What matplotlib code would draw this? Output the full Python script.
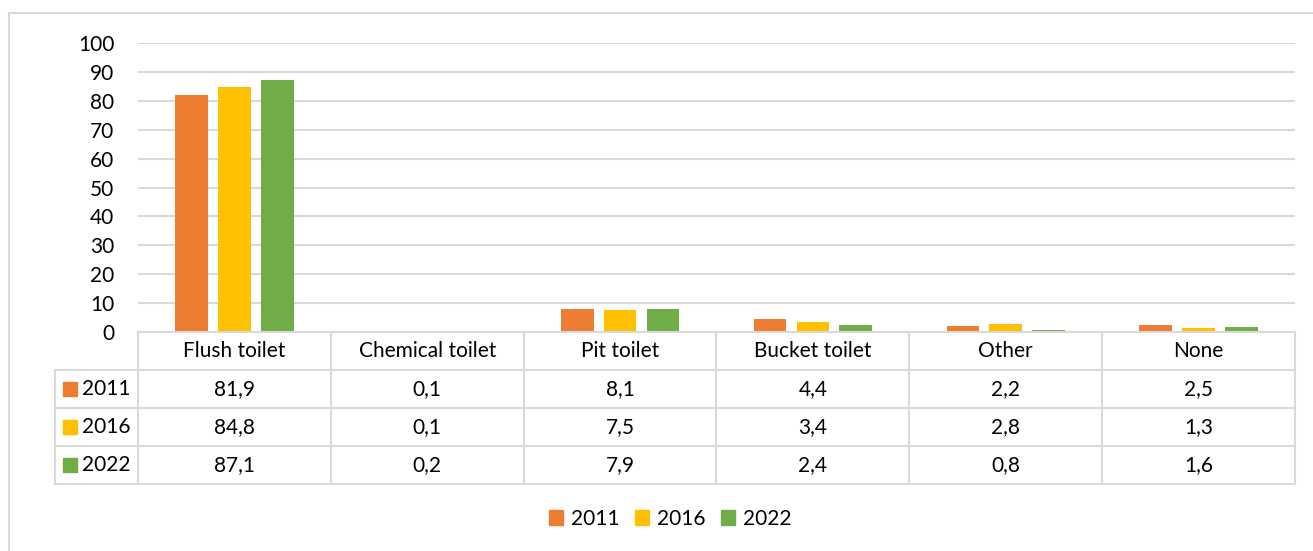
import numpy as np
import matplotlib.pyplot as plt
from matplotlib.patches import Rectangle

plt.rcParams['font.family'] = ['Lato', 'DejaVu Sans']

categories = ["Flush toilet", "Chemical toilet", "Pit toilet", "Bucket toilet", "Other", "None"]
years = ["2011", "2016", "2022"]
v2011 = [81.9, 0.1, 8.1, 4.4, 2.2, 2.5]
v2016 = [84.8, 0.1, 7.5, 3.4, 2.8, 1.3]
v2022 = [87.1, 0.2, 7.9, 2.4, 0.8, 1.6]
series = [v2011, v2016, v2022]
colors = ["#ED7D31", "#FFC000", "#70AD47"]
yticks = list(range(0, 101, 10))

W, H = 1313, 551
fig = plt.figure(figsize=(W / 100, H / 100), dpi=100)
grid_c = "#d9d9d9"
text_c = "#000000"
fs = 15


def px(x0, y0, x1, y1):
    return [x0 / W, 1 - y1 / H, (x1 - x0) / W, (y1 - y0) / H]


# outer chart border (top and left visible)
fig.add_artist(plt.Line2D([9 / W, 1], [1 - 13 / H, 1 - 13 / H], color=grid_c, lw=1.5))
fig.add_artist(plt.Line2D([9 / W, 9 / W], [0, 1 - 13 / H], color=grid_c, lw=1.5))

# bar plot area
ax = fig.add_axes(px(138, 43, 1295, 332))
x = np.arange(len(categories))
bw = 0.17
off = 0.222
for i, (vals, c) in enumerate(zip(series, colors)):
    ax.bar(x + (i - 1) * off, vals, width=bw, color=c, zorder=3)
ax.set_xlim(-0.5, len(categories) - 0.5)
ax.set_ylim(0, 100)
ax.set_yticks(yticks)
ax.set_yticklabels([str(t) for t in yticks], fontsize=fs, color=text_c)
ax.tick_params(axis='y', length=0, pad=17)
ax.set_xticks([])
ax.yaxis.grid(True, color=grid_c, lw=1.5, zorder=0)
for s in ax.spines.values():
    s.set_visible(False)

# data table below axis
tx0, tx1 = 55, 1295
ty0, ty1 = 332, 484
tab = fig.add_axes(px(tx0, ty0, tx1, ty1))
left = -0.5 - (138 - tx0) / 193
tab.set_xlim(left, len(categories) - 0.5)
tab.set_ylim(4, 0)
tab.axis('off')
lk = dict(color=grid_c, lw=1.5, clip_on=False)
# horizontals
tab.plot([-0.5, len(categories) - 0.5], [0, 0], **lk)
for r in [1, 2, 3, 4]:
    tab.plot([left, len(categories) - 0.5], [r, r], **lk)
# verticals
tab.plot([left, left], [1, 4], **lk)
for c in range(len(categories) + 1):
    tab.plot([c - 0.5, c - 0.5], [0, 4], **lk)

for j, cat in enumerate(categories):
    tab.text(j, 0.5, cat, ha='center', va='center', fontsize=fs, color=text_c)
for i, (yr, vals, col) in enumerate(zip(years, series, colors)):
    r = i + 1.5
    sq = 14 / 193
    tab.add_patch(Rectangle((left + 8 / 193, r - 0.18), sq, 0.36, color=col, clip_on=False))
    tab.text(left + 27 / 193, r, yr, ha='left', va='center', fontsize=fs, color=text_c)
    for j, v in enumerate(vals):
        tab.text(j, r, f"{v:.1f}".replace('.', ','), ha='center', va='center',
                 fontsize=fs, color=text_c)

# legend
handles = [Rectangle((0, 0), 1, 1, color=c) for c in colors]
fig.legend(handles, years, loc='center', bbox_to_anchor=(670 / W, 1 - 519 / H),
           ncol=3, frameon=False, fontsize=fs, handlelength=0.7, handleheight=0.7,
           handletextpad=0.35, columnspacing=0.75)

fig.savefig("out.png", dpi=100)
